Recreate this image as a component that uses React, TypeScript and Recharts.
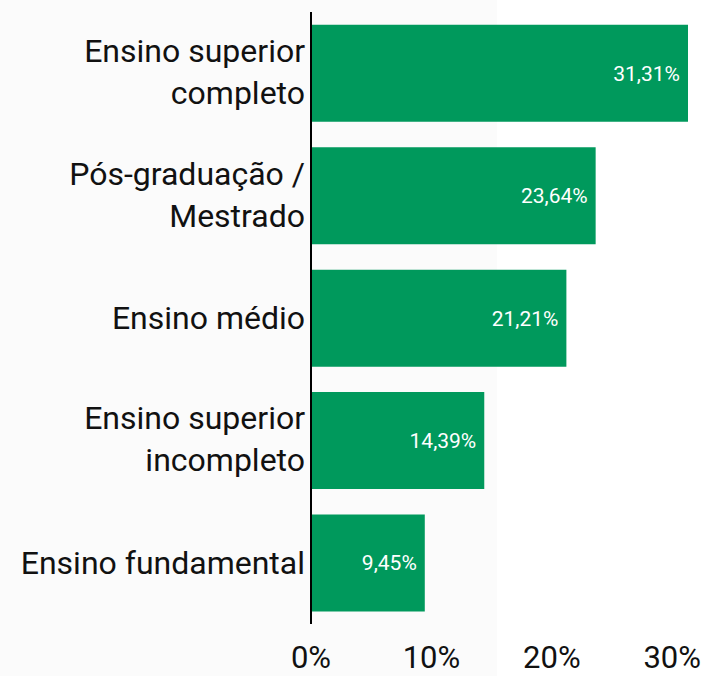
import React from "react";
import { BarChart, Bar, XAxis, YAxis, LabelList } from "recharts";

const categories = [
  "Ensino superior completo",
  "Pós-graduação / Mestrado",
  "Ensino médio",
  "Ensino superior incompleto",
  "Ensino fundamental",
];
const values = [31.31, 23.64, 21.21, 14.39, 9.45];
const categoryLines = [
  ["Ensino superior", "completo"],
  ["Pós-graduação /", "Mestrado"],
  ["Ensino médio"],
  ["Ensino superior", "incompleto"],
  ["Ensino fundamental"],
];
const xTicks = [0, 10, 20, 30];

const data = categories.map((name, i) => ({ name, value: values[i] }));

const FONT = "Roboto, sans-serif";

const YTick = (props: any) => {
  const { x, y, payload } = props;
  const idx = categories.indexOf(payload.value);
  const lines = categoryLines[idx] || [payload.value];
  const offsets = lines.length === 1 ? [11] : [-11, 31];
  return (
    <g>
      {lines.map((ln, i) => (
        <text
          key={i}
          x={x - 6}
          y={y + offsets[i]}
          textAnchor="end"
          fontSize={32}
          fontFamily={FONT}
          fill="#111111"
        >
          {ln}
        </text>
      ))}
    </g>
  );
};

const XTick = (props: any) => {
  const { x, y, payload } = props;
  return (
    <text
      x={x}
      y={y + 44}
      textAnchor="middle"
      fontSize={31}
      fontFamily={FONT}
      fill="#111111"
    >
      {payload.value + "%"}
    </text>
  );
};

export default function App() {
  return (
    <div
      style={{
        position: "absolute",
        left: 0,
        top: 0,
        width: 705,
        height: 676,
        background:
          "linear-gradient(to right, #fbfbfb 0px, #fbfbfb 497px, #ffffff 497px)",
        fontFamily: FONT,
      }}
    >
      <BarChart
        width={705}
        height={676}
        data={data}
        layout="vertical"
        margin={{ top: 12, right: 17, bottom: 0, left: 0 }}
        barCategoryGap="10.5%"
      >
        <XAxis
          type="number"
          domain={[0, "dataMax"]}
          ticks={xTicks}
          axisLine={false}
          tickLine={false}
          tickSize={0}
          tickMargin={0}
          height={52}
          tick={<XTick />}
          interval={0}
        />
        <YAxis
          type="category"
          dataKey="name"
          width={311}
          axisLine={{ stroke: "#000000", strokeWidth: 2 }}
          tickLine={false}
          tickSize={0}
          tickMargin={0}
          tick={<YTick />}
          interval={0}
        />
        <Bar dataKey="value" fill="#00995c" isAnimationActive={false}>
          <LabelList
            dataKey="value"
            position="insideRight"
            offset={8}
            fill="#ffffff"
            fontSize={21}
            fontFamily={FONT}
            formatter={(v: any) => Number(v).toFixed(2).replace(".", ",") + "%"}
          />
        </Bar>
      </BarChart>
    </div>
  );
}
